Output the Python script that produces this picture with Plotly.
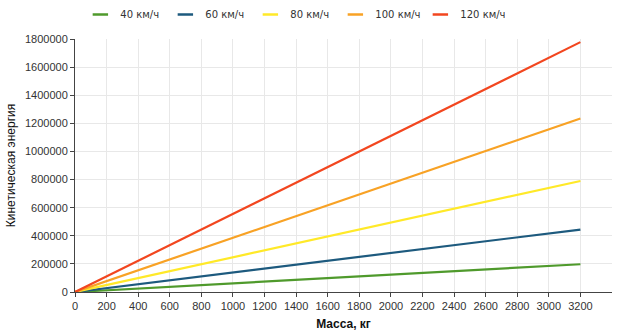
import plotly.graph_objects as go

# Mass of the vehicle, kg
mass_kg = [0, 3200]

# Kinetic energy at each speed, J
speed_names = ["40 км/ч", "60 км/ч", "80 км/ч", "100 км/ч", "120 км/ч"]
energy_40 = [0, 197500]
energy_60 = [0, 444400]
energy_80 = [0, 790100]
energy_100 = [0, 1234600]
energy_120 = [0, 1777800]

line_colors = ["#4f9a2c", "#1d5a7e", "#ffe928", "#f8a225", "#f2461f"]

x_ticks = list(range(0, 3201, 200))
y_ticks = list(range(0, 1800001, 200000))

fig = go.Figure()
for name, vals, col in zip(
    speed_names,
    [energy_40, energy_60, energy_80, energy_100, energy_120],
    line_colors,
):
    fig.add_trace(go.Scatter(
        x=mass_kg, y=vals, name=name, mode="lines", legendgroup=name,
        line=dict(color=col, width=2.2), showlegend=False,
    ))
    # short dash used as the legend key
    fig.add_trace(go.Scatter(
        x=[None], y=[None], name=name, mode="markers", legendgroup=name,
        marker=dict(symbol="line-ew-open", size=11, color=col,
                    line=dict(color=col, width=2.5)),
    ))

fig.update_layout(
    width=620, height=334,
    margin=dict(l=75, r=8, t=39, b=42, autoexpand=False),
    paper_bgcolor="white", plot_bgcolor="white",
    font=dict(family="Liberation Sans, Arial, sans-serif", size=11, color="#222"),
    legend=dict(
        orientation="h", x=0.01, xanchor="left", y=1.0, yanchor="top",
        yref="container", font=dict(family="DejaVu Sans, Verdana, sans-serif", size=10, color="#333"),
        itemwidth=30, tracegroupgap=0, entrywidth=40,
    ),
    xaxis=dict(
        range=[0, 3400], tickvals=x_ticks, ticks="outside", ticklen=4,
        tickcolor="#444", showline=True, linecolor="#444", linewidth=1,
        showgrid=True, gridcolor="#e8e8e8", gridwidth=1, zeroline=False,
        automargin=False,
        title=dict(text="<b>Масса, кг</b>", font=dict(size=12, color="#111"), standoff=8),
        tickfont=dict(size=11, color="#333"),
    ),
    yaxis=dict(
        range=[0, 1800000], tickvals=y_ticks, ticks="outside", ticklen=4,
        tickcolor="#444", showline=True, linecolor="#444", linewidth=1,
        showgrid=True, gridcolor="#e8e8e8", gridwidth=1, zeroline=False,
        tickformat="d", automargin=False,
        title=dict(text="Кинетическая энергия", font=dict(size=12, color="#111"), standoff=6),
        tickfont=dict(size=11, color="#333"),
    ),
)

fig.write_html("out.html")
